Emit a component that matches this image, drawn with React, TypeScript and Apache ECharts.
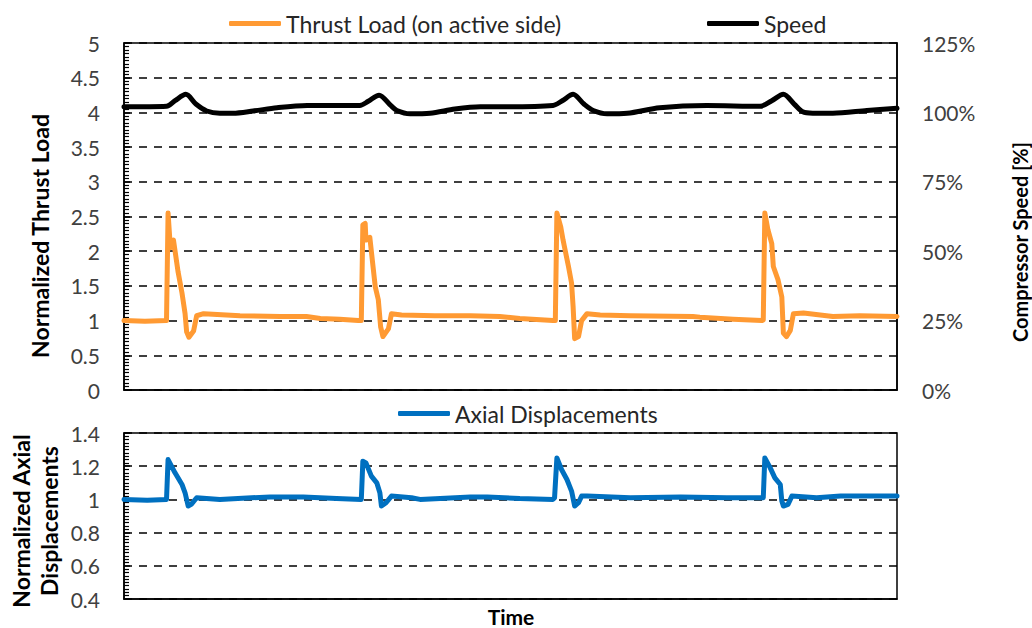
import React, { useEffect, useRef } from "react";
import * as echarts from "echarts";

// ---- Data (time in % of the record) ----
const xRange = [0, 100];

// Normalized thrust load (on active side) [time, value]
const thrustLoad: number[][] = [
  [0, 1.0], [2.7, 0.99], [5.5, 1.0], [5.7, 2.55], [6.0, 2.05], [6.4, 2.16], [7.0, 1.7],
  [7.5, 1.4], [7.9, 1.1], [8.1, 0.84], [8.4, 0.76], [9.0, 0.85], [9.4, 1.07], [10.3, 1.1],
  [15.0, 1.07], [20.2, 1.06], [23.6, 1.06], [25.4, 1.03], [27.9, 1.02], [30.3, 1.0],
  [30.7, 1.0], [30.9, 2.38], [31.2, 2.4], [31.3, 2.16], [31.8, 2.2], [32.5, 1.49],
  [32.9, 1.3], [33.2, 0.91], [33.5, 0.77], [34.2, 0.88], [34.6, 1.1], [35.9, 1.08],
  [40.2, 1.07], [44.8, 1.07], [48.6, 1.06], [51.2, 1.03], [55.5, 1.0], [55.8, 1.0],
  [56.0, 2.55], [56.5, 2.35], [56.8, 2.16], [57.5, 1.78], [57.9, 1.54], [58.1, 1.2],
  [58.3, 0.74], [58.8, 0.77], [59.2, 1.0], [59.9, 1.1], [61.6, 1.08], [65.5, 1.07],
  [73.6, 1.06], [74.5, 1.05], [78.8, 1.02], [82.5, 1.0], [82.7, 1.01], [82.9, 2.55],
  [83.3, 2.31], [83.8, 2.11], [84.0, 1.78], [84.6, 1.59], [85.1, 1.34], [85.3, 0.82],
  [85.7, 0.77], [86.2, 0.86], [86.6, 1.1], [87.9, 1.11], [91.7, 1.06], [95.2, 1.07],
  [100, 1.06],
];

// Compressor speed [%] [time, value]
const speed: number[][] = [
  [0, 102], [5.5, 102.2], [6.6, 104.2], [8.0, 106.5], [9.3, 103], [10.7, 100.5],
  [12.4, 99.7], [14.1, 99.7], [16.7, 100.5], [19.8, 101.7], [23.7, 102.5], [30.5, 102.5],
  [31.6, 104], [33.0, 106.2], [34.5, 102.5], [35.3, 100.7], [37.0, 99.5], [39.6, 99.7],
  [42.8, 101.2], [46.1, 102], [48.6, 102], [55.5, 102.5], [56.7, 104.2], [58.1, 106.5],
  [59.5, 103], [60.7, 100.7], [62.5, 99.5], [65.1, 99.7], [69.3, 101.7], [75.4, 102.5],
  [82.3, 102.2], [83.8, 104.2], [85.3, 106.5], [86.7, 103], [87.8, 100.2], [89.1, 99.7],
  [91.7, 99.7], [96.1, 100.7], [100, 101.5],
];

// Normalized axial displacements [time, value]
const axialDisp: number[][] = [
  [0, 1.0], [3.0, 0.995], [5.5, 1.0], [5.7, 1.24], [6.6, 1.16], [7.5, 1.09], [7.9, 1.04],
  [8.3, 0.96], [8.7, 0.97], [9.4, 1.01], [12.4, 1.0], [18.9, 1.015], [23.2, 1.015],
  [27.5, 1.005], [30.7, 1.0], [30.9, 1.23], [31.3, 1.22], [32.0, 1.14], [32.7, 1.1],
  [33.1, 1.04], [33.3, 0.96], [33.9, 0.98], [34.6, 1.02], [37.2, 1.01], [38.3, 1.0],
  [44.8, 1.015], [47.0, 1.015], [51.2, 1.005], [55.5, 1.0], [55.7, 1.01], [56.0, 1.25],
  [56.6, 1.18], [57.3, 1.12], [57.9, 1.05], [58.3, 0.96], [58.8, 0.98], [59.2, 1.02],
  [59.9, 1.02], [65.5, 1.01], [72.0, 1.015], [78.0, 1.01], [82.7, 1.01], [82.9, 1.25],
  [83.6, 1.19], [84.2, 1.13], [84.9, 1.09], [85.1, 0.99], [85.3, 0.96], [85.9, 0.97],
  [86.4, 1.02], [89.6, 1.01], [92.7, 1.02], [100, 1.02],
];

// Axis ranges
const thrustAxis = { min: 0, max: 5, interval: 0.5 };
const speedAxis = { min: 0, max: 125, interval: 25 };
const dispAxis = { min: 0.4, max: 1.4, interval: 0.2 };

const seriesNames = ["Thrust Load (on active side)", "Speed", "Axial Displacements"];
const axisTitles = {
  thrust: "Normalized Thrust Load",
  speed: "Compressor Speed [%]",
  disp: "Normalized Axial\nDisplacements",
  time: "Time",
};

const FONT = "Lato, 'Open Sans', sans-serif";
const ORANGE = "#FF9A33";
const BLUE = "#0070C0";
const BLACK = "#000000";
const LABEL = "#404040";

const fmt = (v: number) => String(Math.round(v * 10) / 10);

const titleStyle = (text: string, size: number, extra: any = {}) => ({
  text,
  fill: BLACK,
  font: `bold ${size}px ${FONT}`,
  align: "center",
  verticalAlign: "middle",
  textAlign: "center",
  textVerticalAlign: "middle",
  ...extra,
});

export default function App() {
  const ref = useRef<HTMLDivElement>(null);

  useEffect(() => {
    if (!ref.current) return;
    const chart = echarts.init(ref.current, null, { renderer: "svg" });

    const leftAxisCommon = {
      type: "value" as const,
      position: "left" as const,
      axisLine: { show: true, lineStyle: { color: BLACK, width: 1.5 } },
      axisTick: { show: true, inside: true, length: 6, lineStyle: { color: BLACK, width: 1.5 } },
      minorTick: { show: true, splitNumber: 10, length: 5, lineStyle: { color: BLACK, width: 1.2 } },
      axisLabel: { color: LABEL, fontSize: 21, fontFamily: FONT, margin: 24, formatter: fmt },
      splitLine: { show: true, lineStyle: { color: BLACK, width: 1.5, type: [8, 7] } },
      minorSplitLine: { show: false },
    };

    const legendCommon = {
      itemWidth: 52,
      itemHeight: 5,
      icon: "roundRect",
      selectedMode: false,
      textStyle: { fontFamily: FONT, fontSize: 23, color: "#262626" },
    };

    const option: any = {
      animation: false,
      backgroundColor: "#ffffff",
      grid: [
        { left: 124, right: 135, top: 43, height: 347, show: true, borderColor: BLACK, borderWidth: 1.5, backgroundColor: "transparent" },
        { left: 124, right: 135, top: 433, height: 166, show: true, borderColor: BLACK, borderWidth: 1.5, backgroundColor: "transparent" },
      ],
      legend: [
        { ...legendCommon, data: [seriesNames[0]], left: 224, top: 7 },
        { ...legendCommon, data: [seriesNames[1]], left: 702, top: 7 },
        { ...legendCommon, data: [seriesNames[2]], left: 393, top: 397 },
      ],
      xAxis: [0, 1].map((g) => ({
        type: "value",
        gridIndex: g,
        min: xRange[0],
        max: xRange[1],
        axisLine: { show: true, lineStyle: { color: BLACK, width: 1.5 } },
        axisTick: { show: false },
        axisLabel: { show: false },
        splitLine: { show: false },
      })),
      yAxis: [
        { ...leftAxisCommon, gridIndex: 0, ...thrustAxis },
        {
          type: "value",
          gridIndex: 0,
          position: "right",
          ...speedAxis,
          axisLine: { show: true, lineStyle: { color: BLACK, width: 1.5 } },
          axisTick: { show: false },
          axisLabel: { color: LABEL, fontSize: 21, fontFamily: FONT, margin: 25, formatter: "{value}%" },
          splitLine: { show: false },
        },
        { ...leftAxisCommon, gridIndex: 1, ...dispAxis },
      ],
      series: [
        {
          name: seriesNames[0], type: "line", xAxisIndex: 0, yAxisIndex: 0, data: thrustLoad,
          showSymbol: false, symbol: "none", color: ORANGE, z: 3,
          lineStyle: { color: ORANGE, width: 5, cap: "round", join: "round" },
        },
        {
          name: seriesNames[1], type: "line", xAxisIndex: 0, yAxisIndex: 1, data: speed,
          showSymbol: false, symbol: "none", color: BLACK, z: 3, smooth: 0.3,
          lineStyle: { color: BLACK, width: 5, cap: "round", join: "round" },
        },
        {
          name: seriesNames[2], type: "line", xAxisIndex: 1, yAxisIndex: 2, data: axialDisp,
          showSymbol: false, symbol: "none", color: BLUE, z: 3,
          lineStyle: { color: BLUE, width: 5, cap: "round", join: "round" },
        },
      ],
      graphic: [
        { type: "text", x: 40, y: 236, rotation: Math.PI / 2, style: titleStyle(axisTitles.thrust, 23) },
        { type: "text", x: 1020, y: 242, rotation: Math.PI / 2, style: titleStyle(axisTitles.speed, 20) },
        { type: "text", x: 35, y: 521, rotation: Math.PI / 2, style: titleStyle(axisTitles.disp, 23, { lineHeight: 28 }) },
        { type: "text", x: 511, y: 616, style: titleStyle(axisTitles.time, 21, { lineHeight: 22 }) },
      ],
    };

    chart.setOption(option);
    return () => chart.dispose();
  }, []);

  return (
    <div
      ref={ref}
      style={{ position: "fixed", left: 0, top: 0, width: 1032, height: 628, background: "#fff" }}
    />
  );
}
